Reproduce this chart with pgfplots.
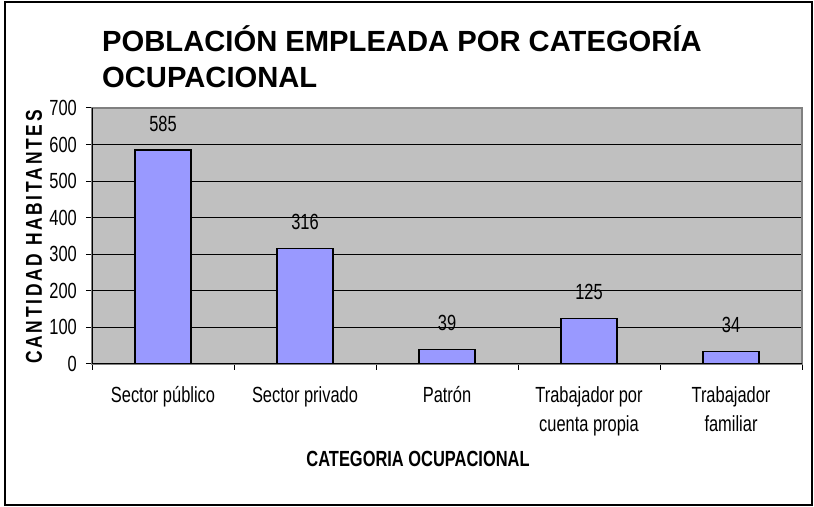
\documentclass[border=0pt]{standalone}
\usepackage{fontspec}
\setmainfont{Liberation Sans}
\newfontfamily\lblfont[FakeStretch=0.75]{Liberation Sans}
\newfontfamily\ylblfont[FakeStretch=0.76,LetterSpace=12]{Liberation Sans}
\usepackage{pgfplots}
\pgfplotsset{compat=1.18}
\definecolor{plotgray}{HTML}{C0C0C0}
\definecolor{barblue}{HTML}{9999FF}
\definecolor{framegray}{HTML}{808080}
\begin{document}
\begin{tikzpicture}
\path[use as bounding box] (0,0) rectangle (814bp,507bp);
\draw[line width=2bp] (4.5bp,2bp) rectangle (811.5bp,505bp);
\node[anchor=base west, inner sep=0pt, font=\fontsize{29.3}{34}\selectfont\bfseries] at (102bp,455bp) {POBLACIÓN EMPLEADA POR CATEGORÍA};
\node[anchor=base west, inner sep=0pt, font=\fontsize{29.3}{34}\selectfont\bfseries] at (102bp,419bp) {OCUPACIONAL};
\node[rotate=90, inner sep=0pt, font=\ylblfont\fontsize{23}{25}\selectfont\bfseries] at (34bp,270bp) {CANTIDAD HABITANTES};
\node[anchor=base, inner sep=0pt, font=\lblfont\fontsize{22}{25}\selectfont\bfseries] at (418bp,40bp) {CATEGORIA OCUPACIONAL};
\begin{axis}[
  at={(92bp,143bp)}, anchor=south west,
  scale only axis, width=710bp, height=256bp,
  xmin=-0.5, xmax=4.5, ymin=0, ymax=700,
  ybar, bar width=56bp,
  ytick={0,100,...,700},
  xtick={-0.5,0.5,1.5,2.5,3.5,4.5},
  x tick label as interval,
  xticklabels={Sector público, Sector privado, Patrón, {Trabajador por\\cuenta propia}, {Trabajador\\familiar}},
  x tick label style={align=center, font=\lblfont\fontsize{22}{30}\selectfont, anchor=north, inner sep=0pt, yshift=-16bp},
  y tick label style={font=\lblfont\fontsize{22}{25}\selectfont, anchor=east, inner sep=0pt, xshift=-9bp},
  /pgf/number format/assume math mode=true,
  axis background/.style={fill=plotgray},
  axis line style={draw=framegray, line width=1.2bp},
  ymajorgrids, major grid style={black, line width=1bp},
  tick style={black, line width=1bp},
  tick align=outside, major tick length=6bp,
  xtick pos=bottom, ytick pos=left,
  nodes near coords,
  nodes near coords style={font=\lblfont\fontsize{22}{25}\selectfont, anchor=south, inner sep=0pt, yshift=18bp, black},
]
\addplot[fill=barblue, draw=black, line width=1.2bp] coordinates {(0,585) (1,316) (2,39) (3,125) (4,34)};
\draw[black, line width=1.2bp] (rel axis cs:0,1) -- (rel axis cs:0,0) -- (rel axis cs:1,0);
\end{axis}
\end{tikzpicture}
\end{document}
